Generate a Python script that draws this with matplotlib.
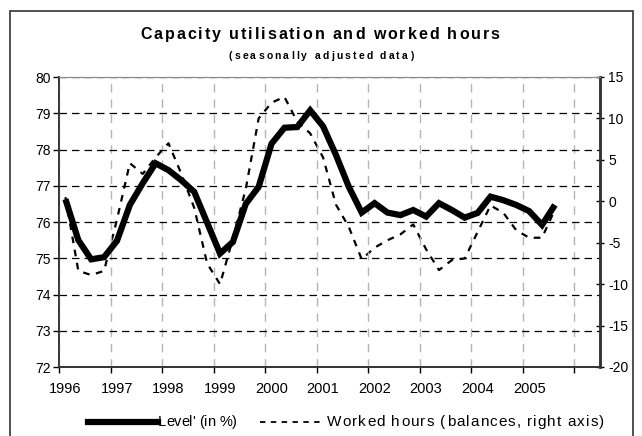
import matplotlib
matplotlib.use("Agg")
import matplotlib.pyplot as plt
from matplotlib.lines import Line2D
from matplotlib.patches import Rectangle
from matplotlib.font_manager import FontProperties, findfont, get_font
import numpy as np

# ---------------- data (quarterly, 1996Q1 ... 2005Q3) ----------------
years = [1996, 1997, 1998, 1999, 2000, 2001, 2002, 2003, 2004, 2005]
level = [76.63, 75.50, 74.97, 75.03, 75.48, 76.47, 77.07, 77.62,
         77.43, 77.15, 76.83, 75.98, 75.13, 75.45, 76.50, 76.97,
         78.16, 78.60, 78.62, 79.08, 78.64, 77.85, 76.97, 76.26,
         76.52, 76.26, 76.19, 76.33, 76.15, 76.52, 76.33, 76.12,
         76.25, 76.70, 76.60, 76.47, 76.30, 75.92, 76.47]
hours = [0.5, -8.4, -8.9, -8.4, -2.2, 4.6, 3.3, 5.3,
         7.0, 3.3, -0.8, -7.5, -10.0, -4.5, 1.5, 10.0,
         11.9, 12.6, 9.6, 8.2, 5.3, -0.4, -3.1, -7.0,
         -5.6, -4.7, -4.0, -2.8, -5.8, -8.3, -7.1, -6.9,
         -3.7, -0.5, -1.4, -3.5, -4.4, -4.4, -1.0]
n_categories = 42

title = "Capacity utilisation and worked hours"
subtitle = "(seasonally adjusted data)"
label_level = "Level' (in %)"
label_hours = "Worked hours (balances, right axis)"

W, H = 642, 436
fig = plt.figure(figsize=(W / 100, H / 100), dpi=100)
plt.rcParams['font.family'] = ['Liberation Sans', 'DejaVu Sans']

# outer frame
fig.patches.append(Rectangle((10 / W, -0.05), 623 / W, 1.05 - 11 / H,
                             transform=fig.transFigure, fill=False,
                             edgecolor='#333333', linewidth=1.2))

L, R, T, B = 59, 600, 77, 367
ax = fig.add_axes([L / W, 1 - B / H, (R - L) / W, (B - T) / H])
ax2 = ax.twinx()

x = np.arange(len(level))
xh = np.arange(len(hours))

ax.set_xlim(-0.5, n_categories - 0.5)
ax.set_ylim(72, 80)
ax2.set_ylim(-20, 15)

# horizontal gridlines (black dashed)
ax.set_yticks(np.arange(72, 81, 1))
ax.yaxis.grid(True, color='black', linestyle=(0, (6, 4)), linewidth=0.9)
# vertical gridlines at year boundaries (grey dashed)
bounds = np.arange(-0.5, n_categories, 4)
ax.set_xticks(bounds)
ax.set_xticklabels([])
ax.xaxis.grid(True, color='#b4b4b4', linestyle=(0, (6, 5)), linewidth=1.0)
ax.set_xticks(np.arange(0, 4 * len(years), 4), minor=True)
ax.set_xticklabels([str(y) for y in years], minor=True, fontsize=10.5)
ax.tick_params(axis='x', which='minor', length=0, pad=11)
ax.tick_params(axis='x', which='major', length=4, direction='out', width=1)
ax.tick_params(axis='y', length=4, direction='out', labelsize=10, width=1, pad=2)
ax.set_axisbelow(True)

ax2.set_yticks(np.arange(-20, 16, 5))
ax2.set_yticklabels([str(v) for v in range(-20, 16, 5)])
ax2.tick_params(axis='y', length=6, direction='inout', labelsize=10, width=1, pad=3)

for a in (ax, ax2):
    a.spines['top'].set_color('#8c8c8c')
    a.spines['left'].set_color('#333333')
    a.spines['right'].set_color('#333333')
    a.spines['bottom'].set_color('#333333')
    a.spines['right'].set_linewidth(1.8)
    a.spines['left'].set_linewidth(1.2)
    a.spines['bottom'].set_linewidth(1.2)

ax2.plot(xh, hours, color='black', linewidth=1.6, linestyle=(0, (3, 3)),
         zorder=2)
ax.set_zorder(ax2.get_zorder() + 1)
ax.patch.set_visible(False)
ax.plot(x, level, color='black', linewidth=4.5, solid_joinstyle='miter',
        solid_capstyle='butt', zorder=3)


def spaced_text(s, x0, y, size, spacing, weight='bold', align='center'):
    fp = FontProperties(family='Liberation Sans', weight=weight, size=size)
    f = get_font(findfont(fp))
    f.set_size(size, 100)
    adv = [f.load_char(ord(c)).linearHoriAdvance / 65536 for c in s]
    total = sum(adv) + spacing * (len(s) - 1)
    xpos = x0 - total / 2 if align == 'center' else x0
    for c, a in zip(s, adv):
        fig.text(xpos / W, 1 - y / H, c, fontproperties=fp,
                 ha='left', va='baseline', color='black')
        xpos += a + spacing


spaced_text(title, 320, 39, 11.5, 1.95)
spaced_text(subtitle, 321, 59, 7.5, 2.2)

# legend
ly = 422
fig.add_artist(Line2D([88 / W, 158 / W], [1 - ly / H] * 2, color='black',
                      linewidth=4.5, transform=fig.transFigure))
spaced_text(label_level, 158, ly + 4, 10.5, -0.1, weight='normal', align='left')
fig.add_artist(Line2D([260 / W, 325 / W], [1 - ly / H] * 2, color='black',
                      linewidth=1.3, linestyle=(0, (3, 3)), transform=fig.transFigure))
spaced_text(label_hours, 327, ly + 4, 11, 1.1, weight='normal', align='left')

fig.savefig('out.png', dpi=100)
